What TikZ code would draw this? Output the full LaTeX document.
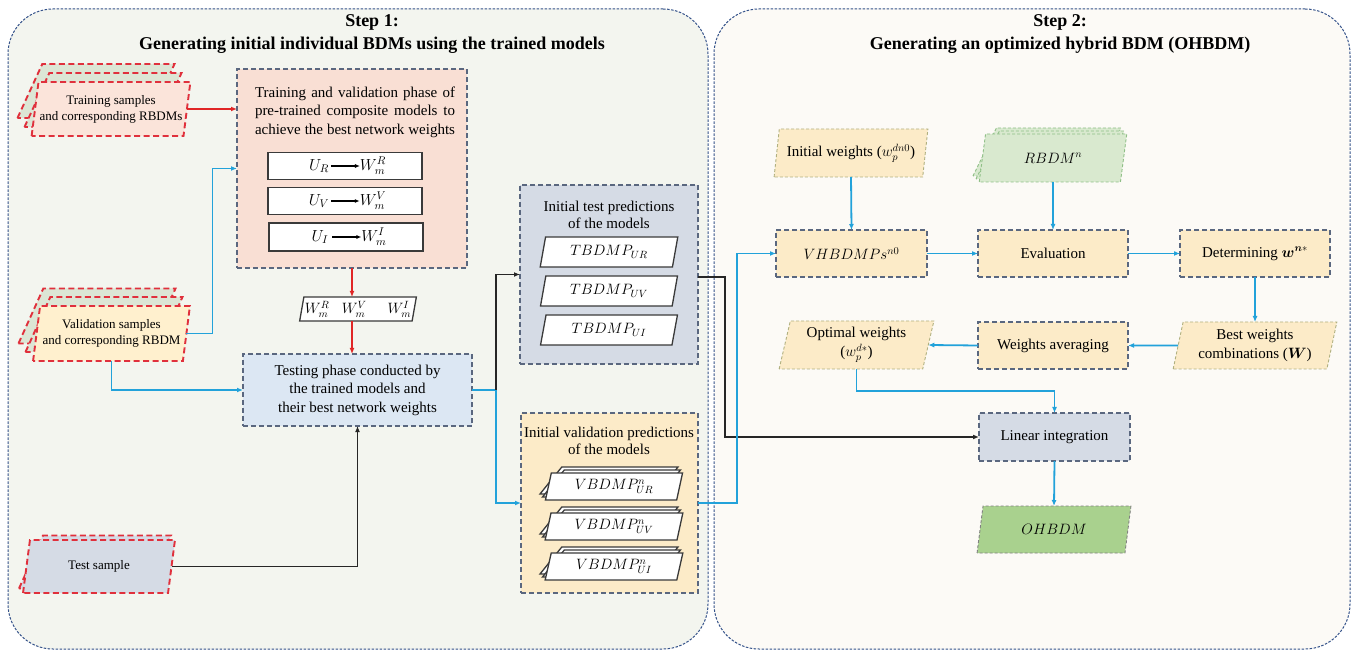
\RequirePackage{fix-cm}
\documentclass[tikz,border=0pt]{standalone}
\usepackage{amsmath}
\usepackage{fontspec}
\setmainfont{Liberation Serif}
\usepackage{bm}
\usetikzlibrary{shapes.geometric,arrows.meta,calc}

\definecolor{panelLfill}{HTML}{F3F5EF}
\definecolor{panelRfill}{HTML}{FCFAF6}
\definecolor{panelline}{HTML}{34528A}
\definecolor{boxline}{HTML}{5A677F}
\definecolor{redline}{HTML}{E0303C}
\definecolor{cred}{HTML}{E02626}
\definecolor{cblue}{HTML}{22A2DA}
\definecolor{cblack}{HTML}{262626}
\definecolor{trainfill}{HTML}{F9DFD4}
\definecolor{trainin}{HTML}{FBE4DA}
\definecolor{stackback}{HTML}{DCE6D5}
\definecolor{valin}{HTML}{FFF0CE}
\definecolor{grayblue}{HTML}{D5DBE5}
\definecolor{lightblue}{HTML}{DCE7F3}
\definecolor{peach}{HTML}{FCEBC8}
\definecolor{paraline}{HTML}{B0B07F}
\definecolor{rbdmfill}{HTML}{D9E9CF}
\definecolor{rbdmline}{HTML}{8FBF86}
\definecolor{ohbdmfill}{HTML}{A9D18E}
\definecolor{ohbdmline}{HTML}{808080}
\definecolor{darkline}{HTML}{3A3A3A}

\tikzset{
  every node/.style={inner sep=0pt, outer sep=0pt},
  panel/.style={rectangle, draw=panelline, line width=1pt, dash pattern=on 2.5pt off 1.5pt, rounded corners=45pt},
  boxd/.style={rectangle, draw=boxline, line width=1.6pt, dash pattern=on 5pt off 3pt},
  para/.style={shape=trapezium, trapezium left angle=77, trapezium right angle=103, trapezium stretches=true, inner sep=1pt},
  instack/.style={para, draw=redline, line width=1.9pt, dash pattern=on 6pt off 3.5pt},
  wpara/.style={para, draw=paraline, line width=0.9pt, dash pattern=on 3pt off 2pt, fill=peach},
  wbox/.style={rectangle, draw=darkline, line width=1.3pt, fill=white},
  wslant/.style={para, draw=darkline, line width=1.3pt, fill=white},
  lbl/.style={font=\fontsize{15}{18.5}\selectfont, align=center},
  smalllbl/.style={font=\fontsize{13}{16}\selectfont, align=center},
  mth/.style={font=\fontsize{16}{19}\selectfont},
  ttl/.style={font=\fontsize{18}{22}\selectfont\bfseries},
  conn/.style={line width=1.8pt, -{Latex[length=6pt,width=5pt]}},
  redc/.style={conn, draw=cred, line width=1.9pt},
  bluec/.style={conn, draw=cblue},
  blueline/.style={line width=1.8pt, draw=cblue},
  blackc/.style={conn, draw=cblack},
  tiny arrow/.style={line width=1.1pt, draw=black, -{Latex[length=5pt,width=4pt]}},
}

\begin{document}
\begin{tikzpicture}[x=1pt,y=-1pt]
\fill[white] (0,0) rectangle (1353,652);
\useasboundingbox (0,0) rectangle (1353,652);

% ---------- panels ----------
\node[panel, fill=panelLfill, minimum width=700, minimum height=640] (step1) at (358,329) {};
\node[panel, fill=panelRfill, minimum width=636, minimum height=640] (step2) at (1032,329) {};

\node[ttl, anchor=base] (t1a) at (372,27) {Step 1:};
\node[ttl, anchor=base] (t1b) at (372,50) {Generating initial individual BDMs using the trained models};
\node[ttl, anchor=base] (t2a) at (1060,27) {Step 2:};
\node[ttl, anchor=base] (t2b) at (1060,50) {Generating an optimized hybrid BDM (OHBDM)};

% ---------- input data stacks ----------
\node[instack, fill=stackback, minimum width=157, minimum height=54] (trainB2) at (96,91) {};
\node[instack, fill=stackback, minimum width=157, minimum height=54] (trainB1) at (103,100) {};
\node[instack, fill=trainin, minimum width=157, minimum height=54, smalllbl] (trainF) at (111,109)
  {Training samples\\and corresponding RBDMs};

\node[instack, fill=stackback, minimum width=157, minimum height=55] (valB2) at (97,316) {};
\node[instack, fill=stackback, minimum width=157, minimum height=55] (valB1) at (104,324.5) {};
\node[instack, fill=valin, minimum width=157, minimum height=55, smalllbl] (valF) at (111.5,333.5)
  {Validation samples\\and corresponding RBDM};

\node[instack, fill=grayblue, minimum width=152, minimum height=53] (testB) at (95,562) {};
\node[instack, fill=grayblue, minimum width=152, minimum height=53, smalllbl] (testF) at (99,566.5) {Test sample};

% ---------- training / validation phase ----------
\node[boxd, fill=trainfill, minimum width=230, minimum height=199] (trainbox) at (352,168.5) {};
\node[lbl] (traintext) at (355,112) {%
  \makebox[200pt][s]{Training and validation phase of}\\
  \makebox[200pt][s]{pre-trained composite models to}\\
  \makebox[200pt][s]{achieve the best network weights}};

\node[wbox, minimum width=154, minimum height=27] (boxR) at (345,166) {};
\node[mth] (uR) at (319,166) {$U_R$};
\node[mth] (wR) at (373,166) {$W_m^R$};
\draw[tiny arrow] ([xshift=2pt]uR.east) -- (wR.west);

\node[wbox, minimum width=154, minimum height=27] (boxV) at (345,201) {};
\node[mth] (uV) at (319,201) {$U_V$};
\node[mth] (wV) at (373,201) {$W_m^V$};
\draw[tiny arrow] ([xshift=2pt]uV.east) -- (wV.west);

\node[wbox, minimum width=154, minimum height=28] (boxI) at (346,237) {};
\node[mth] (uI) at (320,237) {$U_I$};
\node[mth] (wI) at (374,237) {$W_m^I$};
\draw[tiny arrow] ([xshift=4pt]uI.east) -- (wI.west);

\node[wslant, minimum width=106, minimum height=24, font=\fontsize{15}{18}\selectfont] (wts) at (358,309)
  {$W_m^R\;\;\; W_m^V\;\;\;\;\; W_m^I$};

% ---------- testing phase ----------
\node[boxd, fill=lightblue, minimum width=229, minimum height=72, lbl] (testing) at (357.5,390)
  {Testing phase conducted by\\the trained models and\\their best network weights};

% ---------- predictions ----------
\node[boxd, fill=grayblue, minimum width=178, minimum height=179] (testpreds) at (609,274.5) {};
\node[lbl, font=\fontsize{15}{17}\selectfont] (tptext) at (609,214.5) {Initial test predictions\\of the models};
\node[wslant, minimum width=138, minimum height=30, mth, font=\fontsize{15}{18}\selectfont] (tUR) at (609,252) {$TBDMP_{UR}$};
\node[wslant, minimum width=138, minimum height=30, mth, font=\fontsize{15}{18}\selectfont] (tUV) at (609,291) {$TBDMP_{UV}$};
\node[wslant, minimum width=138, minimum height=30, mth, font=\fontsize{15}{18}\selectfont] (tUI) at (609,330) {$TBDMP_{UI}$};

\node[boxd, fill=peach, minimum width=177, minimum height=180] (valpreds) at (609.5,503) {};
\node[lbl, font=\fontsize{15}{17}\selectfont] (vptext) at (609,441) {Initial validation predictions\\of the models};
\foreach \nm/\yy/\sb in {vUR/486.5/UR, vUV/526.5/UV, vUI/566.5/UI}{
  \node[wslant, minimum width=138, minimum height=27] (\nm b2) at (609,\yy-6) {};
  \node[wslant, minimum width=138, minimum height=27] (\nm b1) at (611.5,\yy-3) {};
  \node[wslant, minimum width=138, minimum height=27, font=\fontsize{15}{18}\selectfont] (\nm) at (614,\yy) {$VBDMP^{n}_{\sb}$};
}

% ---------- step 2 ----------
\node[wpara, minimum width=154, minimum height=48, lbl] (initw) at (851,153) {Initial weights ($w_p^{dn0}$)};

\node[para, draw=rbdmline, line width=0.9pt, dash pattern=on 3pt off 2pt, fill=rbdmfill, minimum width=148, minimum height=48] (rbdm2) at (1047,152) {};
\node[para, draw=rbdmline, line width=0.9pt, dash pattern=on 3pt off 2pt, fill=rbdmfill, minimum width=148, minimum height=48] (rbdm1) at (1050,155) {};
\node[para, draw=rbdmline, line width=0.9pt, dash pattern=on 3pt off 2pt, fill=rbdmfill, minimum width=148, minimum height=48, font=\fontsize{15}{18}\selectfont] (rbdm) at (1053,158) {$RBDM^{n}$};

\node[boxd, fill=peach, minimum width=151, minimum height=47, font=\fontsize{15}{18}\selectfont] (vhb) at (851.5,253.5) {$VHBDMPs^{n0}$};
\node[boxd, fill=peach, minimum width=150, minimum height=47, lbl] (eval) at (1053,253.5) {Evaluation};
\node[boxd, fill=peach, minimum width=150, minimum height=47, lbl] (det) at (1255,253.5) {Determining $\bm{w}^{\bm{n}*}$};

\node[wpara, minimum width=164, minimum height=47, lbl, font=\fontsize{15}{19}\selectfont] (best) at (1255,345.5) {Best weights\\combinations ($\bm{W}$)};
\node[boxd, fill=peach, minimum width=150, minimum height=47, lbl] (avg) at (1053,345.5) {Weights averaging};
\node[wpara, minimum width=155, minimum height=48, lbl, font=\fontsize{15}{19}\selectfont] (opt) at (856.5,345) {Optimal weights\\($w_p^{d*}$)};

\node[boxd, fill=grayblue, minimum width=151, minimum height=48, lbl] (linear) at (1054.5,437) {Linear integration};
\node[para, draw=ohbdmline, line width=0.9pt, dash pattern=on 3pt off 2pt, fill=ohbdmfill, minimum width=154, minimum height=47, font=\fontsize{15}{18}\selectfont] (ohbdm) at (1054,529.5) {$OHBDM$};

% ---------- connectors, step 1 ----------
\draw[redc] (trainF.east) -- (trainF.east -| trainbox.west);
\draw[bluec] (valF.east) -- ++(26,0) |- (trainbox.west);
\draw[bluec] (valF.south) |- (testing.west);
\draw[blackc] (testF.east) -| (testing.south);
\draw[redc] (trainbox.south) -- (trainbox.south |- wts.north);
\draw[redc] (trainbox.south |- wts.south) -- (trainbox.south |- testing.north);

\coordinate (split) at ($(testing.east)+(24,0)$);
\draw[blueline] (testing.east) -- (split);
\draw[blackc] (split) |- (testpreds.west);
\draw[bluec] (split) |- (valpreds.west);

\draw[blackc] ([yshift=-2.5pt]testpreds.east) -- ++(27,0) |- (linear.west);
\draw[bluec] (valpreds.east) -- ++(39,0) |- (vhb.west);

% ---------- connectors, step 2 ----------
\draw[bluec] (initw.south) -- (vhb.north);
\draw[bluec] (rbdm.south) -- (eval.north);
\draw[bluec] (vhb.east) -- (eval.west);
\draw[bluec] (eval.east) -- (det.west);
\draw[bluec] (det.south) -- (best.north);
\draw[bluec] (best.west) -- (avg.east);
\draw[bluec] (avg.west) -- (opt.east);
\draw[bluec] (opt.south) -- ++(0,22) -| (linear.north);
\draw[bluec] (linear.south) -- (ohbdm.north);
\end{tikzpicture}
\end{document}
